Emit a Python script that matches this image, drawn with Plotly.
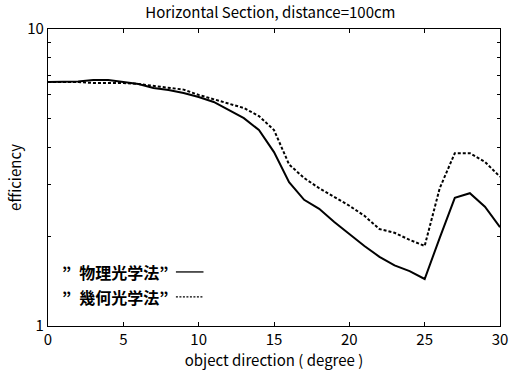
import plotly.graph_objects as go

angles = list(range(0, 31))
physical = [6.63, 6.63, 6.66, 6.73, 6.73, 6.63, 6.53, 6.33, 6.23, 6.09, 5.90,
            5.68, 5.34, 5.01, 4.57, 3.85, 3.05, 2.66, 2.48, 2.24, 2.04,
            1.86, 1.71, 1.60, 1.53, 1.44, 1.98, 2.70, 2.80, 2.52, 2.15]
geometric = [6.63, 6.63, 6.63, 6.58, 6.58, 6.58, 6.53, 6.43, 6.33, 6.25, 6.00,
             5.81, 5.63, 5.42, 5.09, 4.57, 3.50, 3.15, 2.91, 2.72, 2.54,
             2.35, 2.12, 2.06, 1.95, 1.86, 2.91, 3.82, 3.82, 3.57, 3.18]
x_ticks = [0, 5, 10, 15, 20, 25, 30]
y_ticks = [1, 10]
y_minor = [2, 3, 4, 5, 6, 7, 8, 9]
legend_names = ["”\u2002物理光学法”", "”\u2002幾何光学法”"]

FONT = "Noto Sans CJK JP"

fig = go.Figure()
fig.add_trace(go.Scatter(x=angles, y=physical, mode="lines",
                         line=dict(color="black", width=2), showlegend=False))
fig.add_trace(go.Scatter(x=angles, y=geometric, mode="lines",
                         line=dict(color="black", width=2, dash="3px,2px"), showlegend=False))

# legend (text then line sample, as in the original)
rows = [(0.182, "solid"), (0.098, "2px,1.5px")]
for name, (yp, dash) in zip(legend_names, rows):
    fig.add_annotation(x=0.026, y=yp, xref="paper", yref="paper", text="<b>" + name + "</b>",
                       showarrow=False, xanchor="left", yanchor="middle",
                       font=dict(family=FONT, size=16, color="black"))
    fig.add_shape(type="line", xref="paper", yref="paper",
                  x0=0.283, x1=0.344, y0=yp, y1=yp,
                  line=dict(color="black", width=1.3, dash=dash))

axis_common = dict(showline=True, linecolor="black", linewidth=1.2, mirror="ticks",
                   ticks="inside", ticklen=4, tickcolor="black", showgrid=False,
                   zeroline=False, tickfont=dict(family=FONT, size=15, color="black"))

fig.update_layout(
    width=520, height=377,
    margin=dict(l=48, r=16, t=29, b=51),
    paper_bgcolor="white", plot_bgcolor="white",
    font=dict(family=FONT, color="black"),
    title=dict(text="Horizontal Section, distance=100cm", x=0.52, xanchor="center",
               y=0.966, yanchor="middle", font=dict(family=FONT, size=15, color="black")),
    xaxis=dict(range=[0, 30], tickvals=x_ticks,
               title=dict(text="object direction ( degree )", standoff=2,
                          font=dict(family=FONT, size=15, color="black")),
               **axis_common),
    yaxis=dict(type="log", range=[0, 1], tickvals=y_ticks, ticktext=[str(v) for v in y_ticks],
               minor=dict(tickvals=y_minor, ticks="inside", ticklen=3, tickcolor="black"),
               title=dict(text="efficiency", standoff=1,
                          font=dict(family=FONT, size=15, color="black")),
               **axis_common),
)

fig.write_html("out.html")
